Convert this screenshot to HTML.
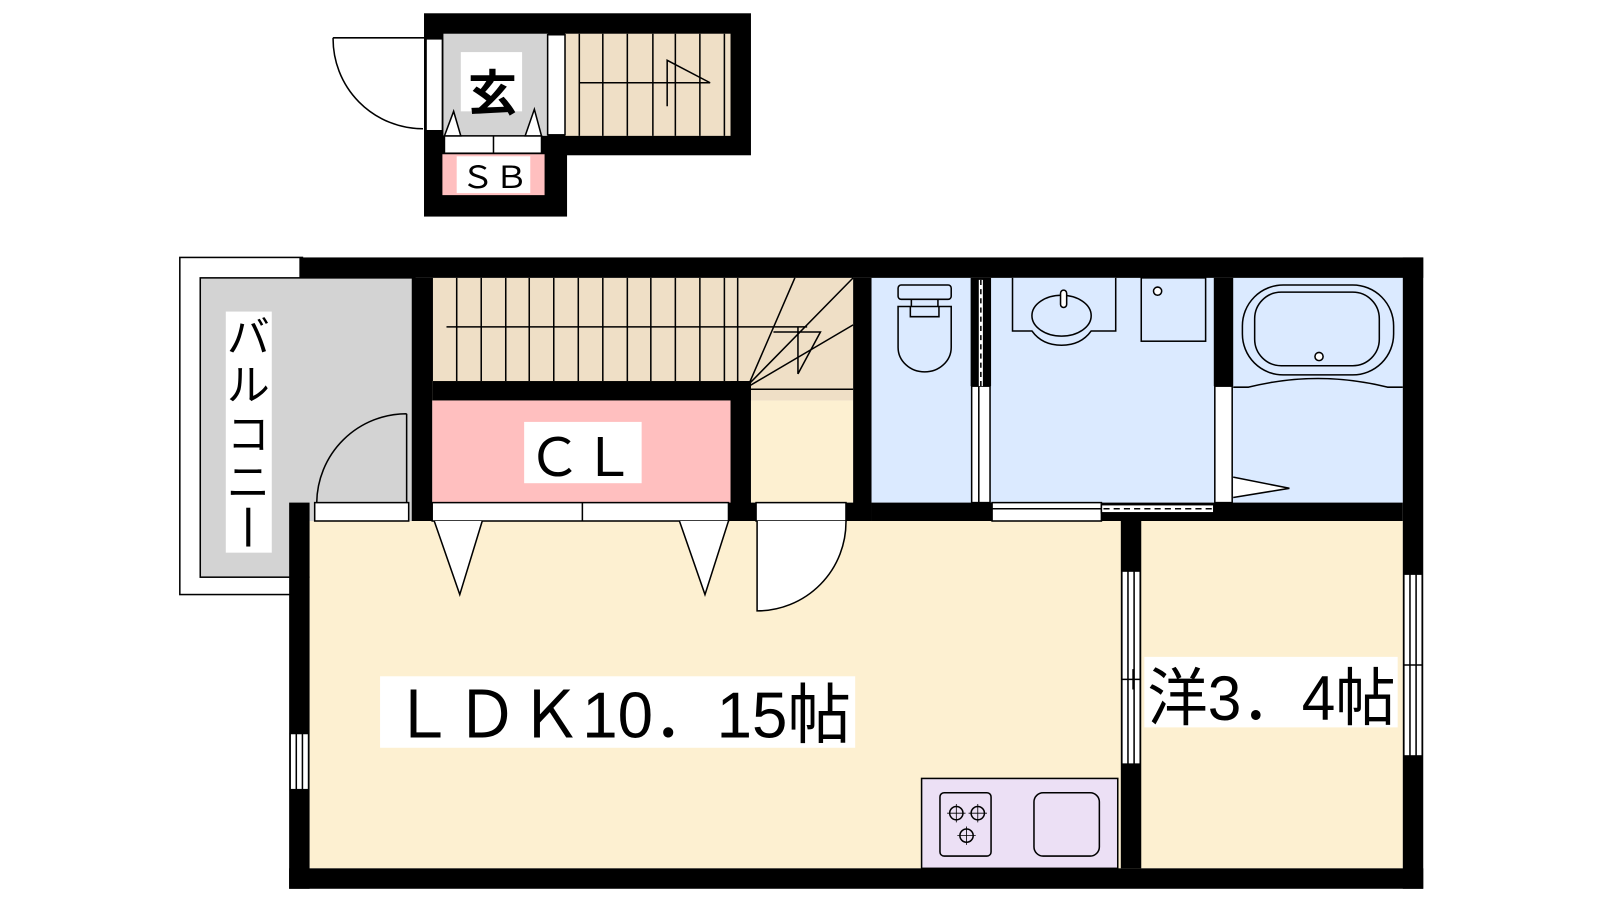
<!DOCTYPE html>
<html><head><meta charset="utf-8"><style>html,body{margin:0;padding:0;background:#fff;width:1600px;height:900px;overflow:hidden}svg{display:block}
text{font-family:"Liberation Sans","Noto Sans CJK JP",sans-serif;fill:#000}</style></head><body>
<svg width="1600" height="900" viewBox="0 0 1566 881" preserveAspectRatio="none" xmlns="http://www.w3.org/2000/svg">
<g stroke="#000" stroke-width="1.5" fill="none">
<rect x="415" y="13" width="320" height="139" fill="#000" stroke="none"/>
<rect x="415" y="150" width="140" height="62" fill="#000" stroke="none"/>
<rect x="434" y="33" width="102" height="100" fill="#d3d3d3" stroke="none"/>
<rect x="553" y="33" width="162" height="100" fill="#efdfc6" stroke="none"/>
<rect x="536" y="34" width="17" height="98" fill="#fff"/>
<rect x="417" y="38" width="16" height="90" fill="#fff"/>
<path d="M567 33V133M590 33V133M614 33V133M639 33V133M661 33V133M685 33V133M709 33V133"/>
<path d="M567 81H695L653 59V104"/>
<path d="M326 37H417M326 37A88 88 0 0 0 414 126"/>
<rect x="435" y="133" width="95" height="17" fill="#fff"/>
<path d="M483 133V150"/>
<path d="M435 133L444 109L451 133Z M514 133L523 107L530 133Z" fill="#fff"/>
<rect x="433" y="151" width="100" height="40" fill="#ffbfbf" stroke="none"/>
<rect x="447" y="153" width="72" height="36" fill="#fff" stroke="none"/>
<rect x="451" y="51" width="60" height="58" fill="#fff" stroke="none"/>

<rect x="176" y="252" width="120" height="330" fill="#fff"/>
<rect x="196" y="272" width="210" height="293" fill="#d3d3d3"/>
<rect x="221" y="305" width="45" height="236" fill="#fff" stroke="none"/>

<rect x="303" y="510" width="1070" height="340" fill="#fdf0d1" stroke="none"/>
<rect x="735" y="392" width="100" height="100" fill="#fdf0d1" stroke="none"/>
<rect x="423" y="272" width="412" height="120" fill="#efdfc6" stroke="none"/>
<rect x="423" y="392" width="292" height="100" fill="#ffbfbf" stroke="none"/>
<rect x="853" y="272" width="520" height="220" fill="#dbeaff" stroke="none"/>

<path d="M423 272V373M447 272V373M471 272V373M495 272V373M518 272V373M542 272V373M566 272V373M590 272V373M614 272V373M637 272V373M661 272V373M685 272V373M709 272V373M722 272V373"/>
<path d="M437 320H790M757 325H803L781 366V320"/>
<path d="M733 376L778 272M733 376L835 272M733 378L835 318M735 381H835"/>

<g fill="#000" stroke="none">
<rect x="293" y="252" width="1100" height="20"/>
<rect x="1373" y="252" width="20" height="618"/>
<rect x="283" y="850" width="1110" height="20"/>
<rect x="283" y="492" width="20" height="378"/>
<rect x="403" y="272" width="20" height="238"/>
<rect x="423" y="373" width="312" height="19"/>
<rect x="715" y="373" width="20" height="137"/>
<rect x="713" y="492" width="27" height="18"/>
<rect x="828" y="492" width="25" height="18"/>
<rect x="835" y="272" width="18" height="238"/>
<rect x="853" y="492" width="520" height="18"/>
<rect x="950" y="272" width="20" height="106"/>
<rect x="1188" y="272" width="19" height="106"/>
<rect x="1097" y="510" width="20" height="340"/>
</g>
<rect x="308" y="492" width="92" height="18" fill="#fff"/>
<path d="M398 405V492M310 492A88 88 0 0 1 398 405"/>
<rect x="423" y="492" width="290" height="18" fill="#fff"/>
<path d="M570 492V510"/>
<path d="M425 510L450 582L472 510M665 510L690 582L713 510" fill="#fff"/>
<rect x="740" y="492" width="88" height="18" fill="#fff"/>
<path d="M741 510V598A87 87 0 0 0 828 510" fill="#fff"/>
<rect x="951" y="378" width="18" height="114" fill="#fff"/>
<path d="M958 378V492"/>
<path d="M960 274V378" stroke="#fff" stroke-width="4"/>
<path d="M960 274V378" stroke-dasharray="5 4"/>
<rect x="1189" y="378" width="17" height="114" fill="#fff"/>
<rect x="971" y="492" width="107" height="18" fill="#fff"/>
<path d="M971 498H1078"/>
<rect x="1078" y="494" width="110" height="8" fill="#fff"/>
<path d="M1080 498H1188" stroke-dasharray="6 4"/>
<path d="M1207 467L1262 478L1207 487" fill="#fff"/>
<rect x="1098" y="559" width="18" height="189" fill="#fff"/>
<path d="M1104 559V748M1110 559V748M1098 665H1116M1109 655V675"/>
<rect x="1374" y="562" width="18" height="178" fill="#fff"/>
<path d="M1380 562V740M1386 562V740M1374 651H1392"/>
<rect x="284" y="718" width="18" height="55" fill="#fff"/>
<path d="M290 718V773M296 718V773"/>

<rect x="879" y="279" width="52" height="14" rx="3" fill="#dbeaff"/>
<path d="M892 293V300M918 293V300"/>
<path d="M879 300H931V340A26 24 0 0 1 879 340Z" fill="#dbeaff"/>
<path d="M891 300V310H919V300"/>
<path d="M991 272V324H1010Q1020 338 1039 338Q1058 338 1068 324H1092V272" fill="#dbeaff"/>
<ellipse cx="1039" cy="309" rx="29" ry="20" fill="#dbeaff"/>
<rect x="1038" y="284" width="6" height="17" rx="3" fill="#fff"/>
<rect x="1117" y="272" width="63" height="62" fill="#dbeaff"/>
<circle cx="1133" cy="285" r="4" fill="#fff"/>
<rect x="1216" y="279" width="148" height="88" rx="40" fill="#dbeaff"/>
<rect x="1228" y="286" width="122" height="72" rx="26" fill="#dbeaff"/>
<circle cx="1291" cy="349" r="4" fill="#fff"/>
<path d="M1207 379H1222Q1290 362 1358 379H1373"/>

<rect x="902" y="762" width="192" height="88" fill="#ece0f5"/>
<rect x="920" y="776" width="50" height="62" rx="4" fill="#ece0f5"/>
<circle cx="936" cy="796" r="6.5"/><circle cx="957" cy="796" r="6.5"/><circle cx="946" cy="818" r="6.5"/>
<path d="M936 787V805M927 796H945M957 787V805M948 796H966M946 809V827M937 818H955" stroke-width="0.8"/>
<rect x="1012" y="776" width="64" height="62" rx="9" fill="#ece0f5"/>
</g>

<rect x="372" y="662" width="465" height="70" fill="#fff"/>
<rect x="1120" y="643" width="248" height="69" fill="#fff"/>
<rect x="513" y="413" width="115" height="60" fill="#fff"/>
<text x="458" y="108" font-size="48" font-weight="bold">玄</text>
<text x="451" y="184" font-size="30" textLength="66" lengthAdjust="spacingAndGlyphs">ＳＢ</text>
<text x="516" y="466" font-size="52" textLength="106" lengthAdjust="spacingAndGlyphs">ＣＬ</text>
<text x="383" y="722" font-size="64" textLength="450" lengthAdjust="spacingAndGlyphs">ＬＤＫ10．15帖</text>
<text x="1123" y="705" font-size="62" textLength="243" lengthAdjust="spacingAndGlyphs">洋3．4帖</text>
<g font-size="42" text-anchor="middle">
<text x="243" y="345">バ</text>
<text x="243" y="392">ル</text>
<text x="243" y="440">コ</text>
<text x="243" y="487">ニ</text>
</g>
<rect x="241" y="497" width="4" height="38" fill="#000"/>
</svg>
</body></html>
